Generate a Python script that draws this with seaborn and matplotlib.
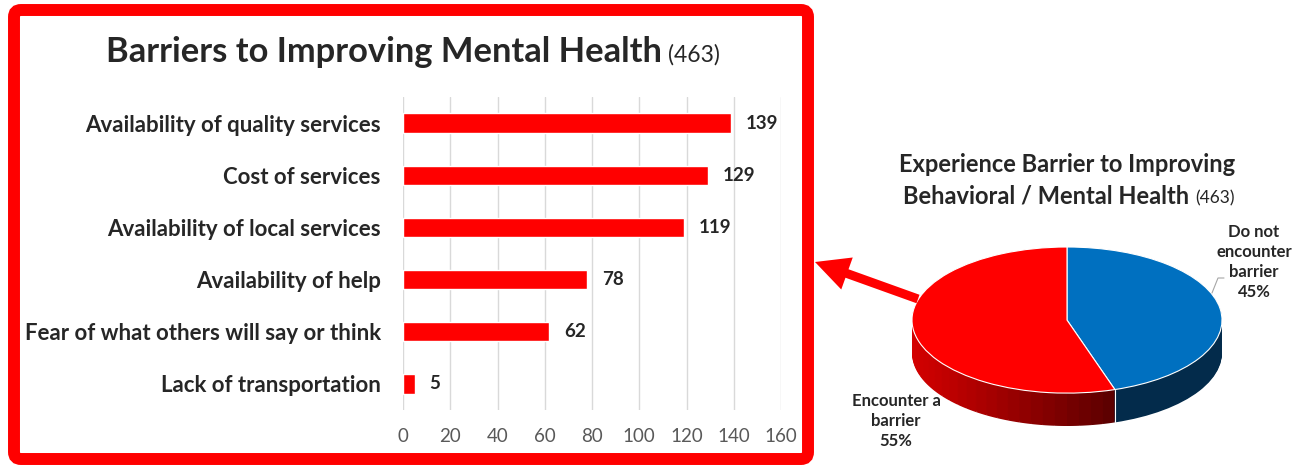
import numpy as np
import matplotlib
matplotlib.use('Agg')
import matplotlib.pyplot as plt
import seaborn as sns
from matplotlib.patches import FancyBboxPatch, FancyArrow
from matplotlib.colors import LinearSegmentedColormap

# bar chart data
categories = ['Availability of quality services', 'Cost of services',
              'Availability of local services', 'Availability of help',
              'Fear of what others will say or think', 'Lack of transportation']
counts = [139, 129, 119, 78, 62, 5]
x_ticks = [0, 20, 40, 60, 80, 100, 120, 140, 160]

# pie data
pie_labels = ['Do not\nencounter\nbarrier', 'Encounter a\nbarrier']
pie_shares = [45, 55]
pie_colors = ['#0070c0', '#ff0000']

W, H = 1302, 465
sns.set_theme(style='white')
plt.rcParams['font.family'] = ['Lato', 'DejaVu Sans']

fig = plt.figure(figsize=(W / 100, H / 100), dpi=100)
fig.patch.set_facecolor('white')


def box(x0, y0, x1, y1):
    """pixel box (from top left) -> figure fraction rect"""
    return [x0 / W, 1 - y1 / H, (x1 - x0) / W, (y1 - y0) / H]


#############
# bar chart #
#############
ax = fig.add_axes(box(403, 97, 781, 410))
sns.barplot(x=counts, y=categories, orient='h', color='#ff0000',
            saturation=1, width=0.37, ax=ax)
ax.set_xlim(0, 160)
ax.set_xticks(x_ticks)
ax.set_ylim(5.5, -0.5)
ax.set_xlabel('')
ax.set_ylabel('')
ax.grid(axis='x', color='#d9d9d9', lw=1)
ax.set_axisbelow(True)
sns.despine(ax=ax, left=True, bottom=True)
ax.tick_params(axis='y', length=0, pad=16, labelsize=16)
ax.tick_params(axis='x', length=0, pad=13, labelsize=13.5, labelcolor='#595959')
for lbl in ax.get_yticklabels():
    lbl.set_fontweight('bold')
ax.bar_label(ax.containers[0], padding=10.5, fontsize=13.5, fontweight='bold')

##############
# 3D-ish pie #
##############
depth = 0.45
pax = fig.add_axes(box(912, 247, 1222, 426))

# split the red share into thin pieces so the side can get a gradient
n_split = 44
side_vals = [pie_shares[0]] + [pie_shares[1] / n_split] * n_split
side_cmap = LinearSegmentedColormap.from_list('side', ['#d40000', '#5a0000'])
start = 90 - 360 * pie_shares[0] / 100
side_cols = ['#032b4b']
for i in range(n_split):
    th = np.deg2rad(start - (i + 0.5) * 360 * pie_shares[1] / 100 / n_split)
    t = np.clip((np.cos(th) + 1) / 1.31, 0, 1)
    side_cols.append(side_cmap(t))

for d in np.linspace(depth, 0.005, 40):
    pax.pie(side_vals, colors=side_cols, startangle=90, counterclock=False,
            center=(0, -d), wedgeprops=dict(linewidth=0))

pax.pie(pie_shares, colors=pie_colors, startangle=90, counterclock=False,
        wedgeprops=dict(edgecolor='white', linewidth=0.8))
bx, by = np.cos(np.deg2rad(start)), np.sin(np.deg2rad(start))
pax.plot([bx, bx], [by, by - depth], color='white', lw=0.8)
pax.set_aspect('auto')
pax.set_xlim(-1, 1)
pax.set_ylim(-1 - depth, 1)
pax.axis('off')

###########
# overlay #
###########
ov = fig.add_axes([0, 0, 1, 1], zorder=10)
ov.set_xlim(0, W)
ov.set_ylim(H, 0)
ov.axis('off')

ov.add_patch(FancyBboxPatch((14, 10), 794, 449, boxstyle='round,pad=0,rounding_size=7',
                            fill=False, ec='#ff0000', lw=8.6))
ov.add_patch(FancyArrow(918, 299, 815 - 918, 262 - 299, width=9, head_width=34,
                        head_length=34, length_includes_head=True, color='#ff0000', lw=0))

# titles
ov.text(662, 62, 'Barriers to Improving Mental Health', ha='right', va='baseline',
        fontsize=24.8, fontweight='bold')
ov.text(668, 62, '(463)', ha='left', va='baseline', fontsize=16.5)

ov.text(1067, 172, 'Experience Barrier to Improving', ha='center', va='baseline',
        fontsize=17, fontweight='bold')
ov.text(1189, 203, 'Behavioral / Mental Health', ha='right', va='baseline',
        fontsize=17, fontweight='bold')
ov.text(1195, 203, '(463)', ha='left', va='baseline', fontsize=12.5)

# pie labels
ov.text(1254, 262, pie_labels[0] + '\n' + f'{pie_shares[0]}%', ha='center', va='center',
        fontsize=12, fontweight='bold', linespacing=1.3)
ov.text(896, 421, pie_labels[1] + '\n' + f'{pie_shares[1]}%', ha='center', va='center',
        fontsize=12, fontweight='bold', linespacing=1.3)
ov.plot([1212, 1218, 1224], [293, 278, 278], color='#a6a6a6', lw=0.8)

fig.savefig('out.png', dpi=100, facecolor='white')
